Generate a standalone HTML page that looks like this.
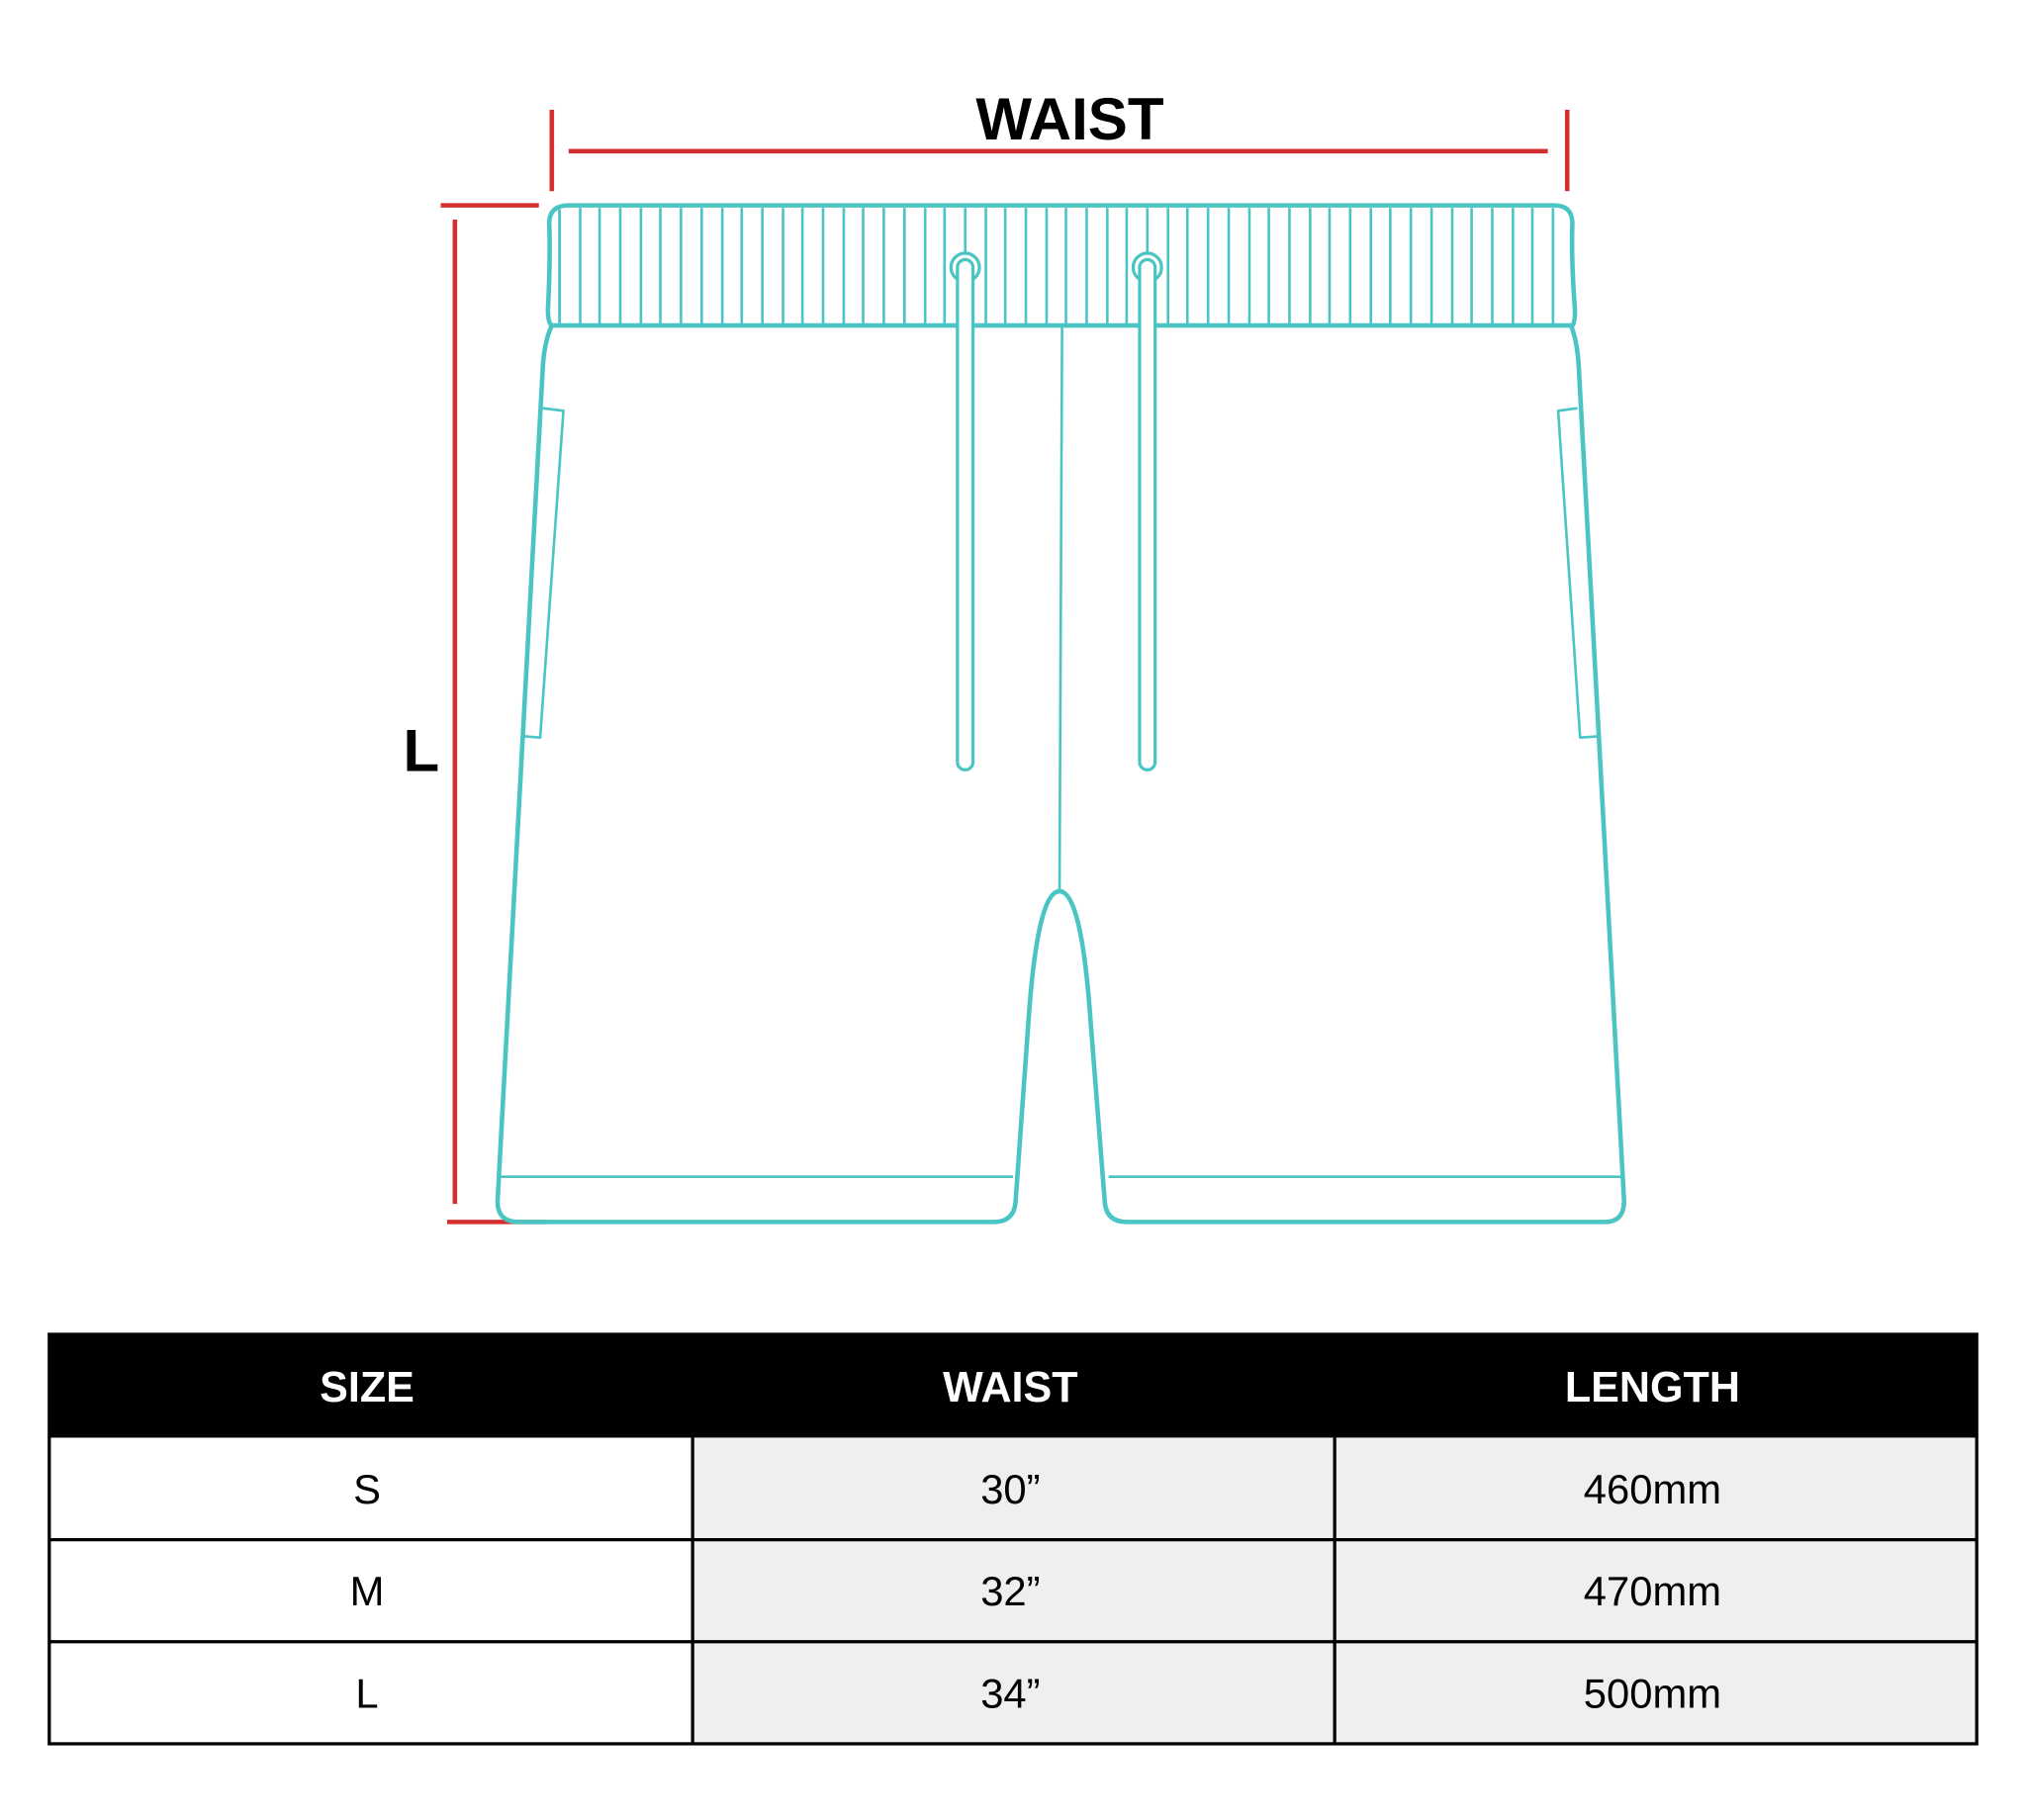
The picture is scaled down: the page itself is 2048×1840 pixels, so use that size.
<!DOCTYPE html>
<html><head><meta charset="utf-8"><style>html,body{margin:0;padding:0;background:#fff}svg{display:block}</style></head>
<body>
<svg width="2048" height="1840" viewBox="0 0 1568 1409" xmlns="http://www.w3.org/2000/svg" font-family="Liberation Sans, Arial, sans-serif">
<rect width="1568" height="1409" fill="#fff"/>
<g stroke="#d32f2f" stroke-width="3.5" fill="none">
<line x1="427" y1="85" x2="427" y2="148"/>
<line x1="1213" y1="85" x2="1213" y2="148"/>
<line x1="440" y1="117" x2="1198" y2="117"/>
<line x1="341" y1="159" x2="417" y2="159"/>
<line x1="352" y1="170" x2="352" y2="932"/>
<line x1="346" y1="946" x2="423" y2="946"/>
</g>
<text x="828" y="108" font-size="46" font-weight="bold" text-anchor="middle">WAIST</text>
<text x="326" y="597" font-size="46" font-weight="bold" text-anchor="middle">L</text>
<g stroke="#4bc4c4" fill="none" stroke-linejoin="round">
<path d="M440 159 H1203 Q1217 159 1217 173 Q1216 200 1219 240 Q1219 250 1217 252 H427 Q424 250 424 240 Q426 200 425 173 Q425 159 440 159 Z" stroke-width="3.5"/>
<g stroke-width="2">
<path id="st" d="M433 162 V251"/>
</g>
<g stroke-width="2" id="stripes"></g>
<path d="M427 252 Q421 265 420 285 L385 930 Q385 946 401 946 H769 Q785 946 786 930 L796 790 Q803 690 820 690 Q837 690 844 790 L855 930 Q856 946 872 946 H1242 Q1257 946 1257 930 L1222 285 Q1221 265 1216 252" stroke-width="3.5"/>
<path d="M822 253 L820 690" stroke-width="2"/>
<path d="M386 911 H784 M858 911 H1255" stroke-width="2"/>
<path d="M420 316 L436 318 L418 571 L405 570" stroke-width="2"/>
<path d="M1221 316 L1206 318 L1223 571 L1238 570" stroke-width="2"/>
<g stroke-width="2.5" fill="#fff">
<circle cx="747" cy="207" r="11"/><circle cx="888" cy="207" r="11"/>
<path d="M741 207 A6 6 0 0 1 753 207 V590 A6 6 0 0 1 741 590 Z"/>
<path d="M882 207 A6 6 0 0 1 894 207 V590 A6 6 0 0 1 882 590 Z"/>
</g>
</g>
<g stroke="#4bc4c4" stroke-width="2">
<line x1="433" y1="163" x2="433" y2="250"/><line x1="449" y1="161" x2="449" y2="251"/><line x1="464" y1="161" x2="464" y2="251"/><line x1="480" y1="161" x2="480" y2="251"/><line x1="496" y1="161" x2="496" y2="251"/><line x1="511" y1="161" x2="511" y2="251"/><line x1="527" y1="161" x2="527" y2="251"/><line x1="543" y1="161" x2="543" y2="251"/><line x1="559" y1="161" x2="559" y2="251"/><line x1="574" y1="161" x2="574" y2="251"/><line x1="590" y1="161" x2="590" y2="251"/><line x1="606" y1="161" x2="606" y2="251"/><line x1="621" y1="161" x2="621" y2="251"/><line x1="637" y1="161" x2="637" y2="251"/><line x1="653" y1="161" x2="653" y2="251"/><line x1="668" y1="161" x2="668" y2="251"/><line x1="684" y1="161" x2="684" y2="251"/><line x1="700" y1="161" x2="700" y2="251"/><line x1="716" y1="161" x2="716" y2="251"/><line x1="731" y1="161" x2="731" y2="251"/><line x1="763" y1="161" x2="763" y2="251"/><line x1="778" y1="161" x2="778" y2="251"/><line x1="794" y1="161" x2="794" y2="251"/><line x1="810" y1="161" x2="810" y2="251"/><line x1="825" y1="161" x2="825" y2="251"/><line x1="841" y1="161" x2="841" y2="251"/><line x1="857" y1="161" x2="857" y2="251"/><line x1="872" y1="161" x2="872" y2="251"/><line x1="904" y1="161" x2="904" y2="251"/><line x1="919" y1="161" x2="919" y2="251"/><line x1="935" y1="161" x2="935" y2="251"/><line x1="951" y1="161" x2="951" y2="251"/><line x1="967" y1="161" x2="967" y2="251"/><line x1="982" y1="161" x2="982" y2="251"/><line x1="998" y1="161" x2="998" y2="251"/><line x1="1014" y1="161" x2="1014" y2="251"/><line x1="1029" y1="161" x2="1029" y2="251"/><line x1="1045" y1="161" x2="1045" y2="251"/><line x1="1061" y1="161" x2="1061" y2="251"/><line x1="1076" y1="161" x2="1076" y2="251"/><line x1="1092" y1="161" x2="1092" y2="251"/><line x1="1108" y1="161" x2="1108" y2="251"/><line x1="1124" y1="161" x2="1124" y2="251"/><line x1="1139" y1="161" x2="1139" y2="251"/><line x1="1155" y1="161" x2="1155" y2="251"/><line x1="1171" y1="161" x2="1171" y2="251"/><line x1="1186" y1="161" x2="1186" y2="251"/><line x1="1202" y1="161" x2="1202" y2="251"/><line x1="747" y1="161" x2="747" y2="195"/><line x1="888" y1="161" x2="888" y2="195"/><line x1="731" y1="161" x2="731" y2="251"/>
</g>
<!-- table -->
<rect x="38" y="1033" width="1492" height="80" fill="#000"/>
<rect x="536" y="1113" width="994" height="237" fill="#efefef"/>
<g stroke="#000" stroke-width="2.5" fill="none">
<rect x="38" y="1033" width="1492" height="317"/>
<line x1="38" y1="1192" x2="1530" y2="1192"/>
<line x1="38" y1="1271" x2="1530" y2="1271"/>
<line x1="536" y1="1113" x2="536" y2="1350"/>
<line x1="1033" y1="1113" x2="1033" y2="1350"/>
</g>
<g font-size="33" font-weight="bold" fill="#fff" text-anchor="middle">
<text x="284" y="1085">SIZE</text><text x="782" y="1085">WAIST</text><text x="1279" y="1085">LENGTH</text>
</g>
<g font-size="32" fill="#000" text-anchor="middle">
<text x="284" y="1164">S</text><text x="782" y="1164">30”</text><text x="1279" y="1164">460mm</text>
<text x="284" y="1243">M</text><text x="782" y="1243">32”</text><text x="1279" y="1243">470mm</text>
<text x="284" y="1322">L</text><text x="782" y="1322">34”</text><text x="1279" y="1322">500mm</text>
</g>
</svg>
</body></html>
